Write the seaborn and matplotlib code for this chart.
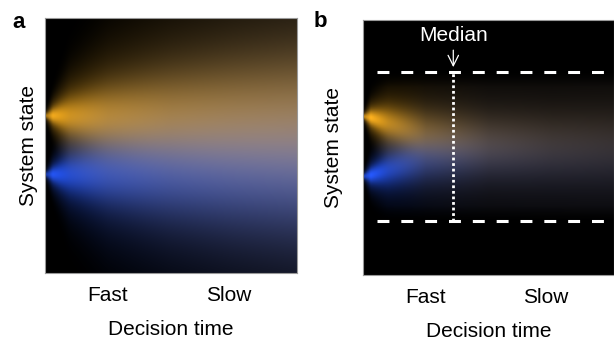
import numpy as np
import matplotlib
matplotlib.use("Agg")
import matplotlib.pyplot as plt
import seaborn as sns
import pandas as pd

# values (time 0..1 left to right, state -1..1 bottom to top)
time_pts = [0.0, 0.03, 0.1, 0.25, 0.5, 0.75, 1.0]

# panel a: two bands spreading freely
a_orange_center = [0.23, 0.23, 0.23, 0.23, 0.23, 0.23, 0.23]
a_blue_center = [-0.23, -0.23, -0.23, -0.23, -0.23, -0.23, -0.23]
a_width = [0.01, 0.04, 0.10, 0.17, 0.24, 0.29, 0.33]
a_peak = [0.6, 0.95, 0.8, 0.68, 0.6, 0.57, 0.55]

# panel b: bands drift to the middle and are absorbed at the bounds
b_orange_center = [0.24, 0.23, 0.19, 0.11, 0.05, 0.04, 0.04]
b_blue_center = [-0.23, -0.22, -0.18, -0.10, -0.05, -0.06, -0.06]
b_width = [0.01, 0.04, 0.08, 0.12, 0.15, 0.17, 0.19]
b_peak = [0.7, 1.0, 0.75, 0.45, 0.28, 0.22, 0.19]

bounds = [0.59, -0.58]
median_time = 0.36
tick_pos = [0.25, 0.73]
tick_labels = ["Fast", "Slow"]

orange = np.array([1.0, 0.70, 0.12])
blue = np.array([0.15, 0.35, 1.0])

t = np.linspace(0, 1, 400)
v = np.linspace(-1, 1, 400)
T, V = np.meshgrid(t, v)


def band(centers, widths, peaks):
    c = np.interp(T, time_pts, centers)
    w = np.interp(T, time_pts, widths)
    p = np.interp(T, time_pts, peaks)
    d = V - c
    core = np.exp(-d ** 2 / (2 * w ** 2))
    wide = np.exp(-d ** 2 / (2 * (2.2 * w) ** 2))
    return p * (0.55 * core + 0.45 * wide)


def to_rgb(o, b):
    img = o[..., None] * orange + b[..., None] * blue
    return np.clip(img, 0, 1)


img_a = to_rgb(band(a_orange_center, a_width, a_peak), band(a_blue_center, a_width, a_peak))

gate = np.clip((bounds[0] - V) / 0.12, 0, 1) * np.clip((V - bounds[1]) / 0.12, 0, 1)
img_b = to_rgb(band(b_orange_center, b_width, b_peak) * gate, band(b_blue_center, b_width, b_peak) * gate)

sns.set_theme(style="white")
plt.rcParams['font.family'] = ['Liberation Sans', 'DejaVu Sans']
plt.rcParams['text.color'] = 'black'
plt.rcParams['axes.labelcolor'] = 'black'
plt.rcParams['xtick.color'] = 'black'

fig = plt.figure(figsize=(6.14, 3.41), dpi=100)
ax_a = fig.add_axes([0.0733, 0.1994, 0.410, 0.748])
ax_b = fig.add_axes([0.591, 0.1935, 0.409, 0.748])

for ax, img, pad in [(ax_a, img_a, 5), (ax_b, img_b, 14)]:
    ax.imshow(img, extent=[0, 1, -1, 1], origin='lower', aspect='auto', interpolation='bilinear')
    ax.set_xlim(0, 1)
    ax.set_ylim(-1, 1)
    ax.set_xticks(tick_pos)
    ax.set_xticklabels(tick_labels, fontsize=15)
    ax.set_yticks([])
    ax.tick_params(length=0, pad=9)
    ax.set_xlabel("Decision time", fontsize=15, labelpad=11)
    ax.set_ylabel("System state", fontsize=15, labelpad=pad)
    for s in ax.spines.values():
        s.set_color('0.6')
        s.set_linewidth(0.8)

# bounds and median in panel b
for y in bounds:
    line = pd.DataFrame({"time": [0.055, 1.0], "state": [y, y]})
    sns.lineplot(data=line, x="time", y="state", ax=ax_b, color='white', lw=2.2,
                 linestyle=(0, (3.9, 3.9)))
med = pd.DataFrame({"time": [median_time, median_time], "state": bounds})
sns.lineplot(data=med, x="time", y="state", ax=ax_b, color='white', lw=2.0,
             linestyle=(0, (1, 1)), orient='y')
ax_b.annotate("Median", xy=(median_time, 0.63), xytext=(median_time, 0.8),
              color='white', fontsize=15, ha='center', va='bottom',
              arrowprops=dict(arrowstyle='->,head_length=0.5,head_width=0.25',
                              color='white', lw=0.9, shrinkA=1, shrinkB=0))

fig.text(12 / 614, 0.918, "a", fontsize=16, fontweight='bold')
fig.text(314 / 614, 0.921, "b", fontsize=16, fontweight='bold')

fig.savefig("out.png", dpi=100)
